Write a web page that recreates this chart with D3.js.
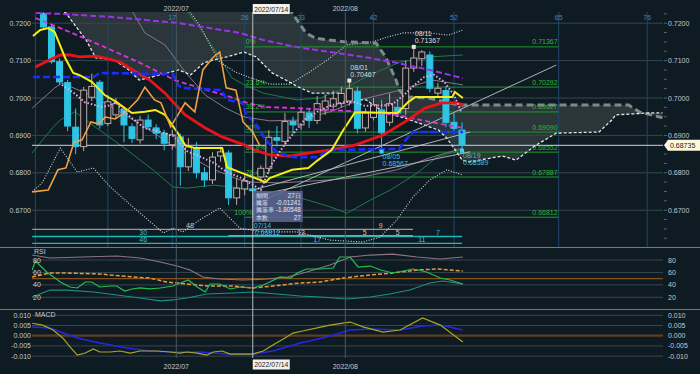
<!DOCTYPE html>
<html>
<head>
<meta charset="utf-8">
<script src="https://cdn.jsdelivr.net/npm/d3@7"></script>
<style>
body { margin: 0; background: #0f1b23; }
svg text { font-family: "Liberation Sans", Arial, sans-serif; }
</style>
</head>
<body>
<div class="chart"></div>
<script>
// bars start at index 1 (index 0 = ichimoku time count origin)
const firstBar = 1
const opens  = [0.7226,0.7190,0.7097,0.7041,0.6922,0.6870,0.7002,0.7042,0.6932,0.6955,0.6968,0.6923,0.6888,0.6941,0.6920,0.6906,0.6875,0.6896,0.6816,0.6866,0.6800,0.6781,0.6845,0.6853,0.6733,0.6757,0.6757,0.6789,0.6812,0.6894,0.6884,0.6937,0.6928,0.6960,0.6940,0.6968,0.6978,0.6985,0.6992,0.7018,0.6920,0.6948,0.6968,0.6935,0.6975,0.6972,0.7080,0.7105,0.7115,0.7013,0.7020,0.6935,0.6914]
const highs  = [0.7236,0.7196,0.7106,0.7048,0.6972,0.7030,0.7065,0.7048,0.7008,0.7000,0.6976,0.6932,0.6952,0.6956,0.6930,0.6915,0.6915,0.6905,0.6893,0.6882,0.6815,0.6855,0.6870,0.6860,0.6786,0.6800,0.6790,0.6820,0.6914,0.6925,0.6960,0.6950,0.6975,0.6972,0.7005,0.7010,0.7020,0.7030,0.70467,0.7030,0.6972,0.7000,0.6995,0.7012,0.6995,0.7100,0.71367,0.7128,0.7125,0.7040,0.7032,0.6960,0.6935]
const lows   = [0.7186,0.7092,0.7035,0.6911,0.6850,0.6858,0.6992,0.6918,0.6925,0.6944,0.6882,0.6880,0.6878,0.6915,0.6890,0.6860,0.6862,0.6766,0.6805,0.6785,0.6762,0.6770,0.6830,0.6714,0.6714,0.6740,0.66812,0.6775,0.6800,0.6870,0.6875,0.6905,0.6915,0.6920,0.6930,0.6955,0.6970,0.6975,0.6980,0.6905,0.6910,0.6940,0.68567,0.6925,0.6950,0.6955,0.7070,0.7085,0.7015,0.7000,0.6922,0.6905,0.68589]
const closes = [0.7190,0.7097,0.7043,0.6925,0.6870,0.7021,0.7031,0.6928,0.6990,0.6985,0.6928,0.6892,0.6941,0.6923,0.6906,0.6879,0.6901,0.6816,0.6869,0.6800,0.6781,0.6842,0.6856,0.6733,0.6759,0.6778,0.6752,0.6812,0.6895,0.6887,0.6937,0.6928,0.6962,0.6940,0.6985,0.6992,0.6998,0.7012,0.7025,0.6919,0.6960,0.6982,0.6907,0.6985,0.6960,0.7080,0.7107,0.7123,0.7026,0.7026,0.6935,0.6919,0.68735]
const lastPrice = 0.68735

// [bar index, value]
const tenkan = [[-0.3,0.7166],[0.6,0.7182],[1.6,0.7187],[2.4,0.7176],[3.7,0.7107],[4.7,0.7067],[5.5,0.7061],[7,0.7043],[8.6,0.7008],[10.1,0.6989],[11.1,0.6973],[12,0.6960],[13.6,0.6963],[14.9,0.6968],[16.1,0.6955],[17.6,0.6909],[18.6,0.6874],[19.8,0.6866],[23.2,0.6866],[23.8,0.6815],[25.7,0.6799],[27.3,0.6786],[28.6,0.6775],[29.1,0.6786],[31.9,0.6808],[33.9,0.6813],[35.1,0.6834],[36.8,0.6861],[38.1,0.6909],[39.7,0.6962],[45,0.6960],[46.3,0.6989],[47.2,0.7003],[51.8,0.7003],[52.1,0.7016],[53.1,0.7000]]
const kijun = [[-0.3,0.7056],[7.2,0.7056],[8,0.7067],[17.1,0.7064],[17.7,0.7035],[18.2,0.7027],[23.1,0.7021],[23.8,0.6995],[25.7,0.6987],[26.2,0.6955],[27.2,0.6936],[28.6,0.6888],[30.1,0.6853],[32.1,0.6842],[35.1,0.6842],[36.1,0.6856],[36.6,0.6861],[45.2,0.6864],[46.2,0.6893],[46.9,0.6909],[53.1,0.6909]]
const sma25 = [[0,0.7083],[1.8,0.7102],[3.1,0.7115],[4.3,0.7115],[5.5,0.7110],[7.4,0.7112],[8.6,0.7107],[10.5,0.7096],[12.1,0.7075],[14.2,0.7048],[16.1,0.7013],[18.6,0.6955],[21.1,0.6920],[23.2,0.6896],[26,0.6874],[27.2,0.6861],[29.1,0.6848],[31.6,0.6845],[34.1,0.6853],[36.6,0.6861],[39.7,0.6874],[43.2,0.6901],[45.9,0.6936],[48.4,0.6973],[50.5,0.6987],[52.1,0.6987],[53.2,0.6982]]
const sma75 = [[0,0.7214],[3.1,0.7187],[8,0.7142],[13,0.7094],[17.3,0.7048],[20.4,0.7027],[24.2,0.7003],[25.8,0.6990],[28.3,0.6976],[32.5,0.6973],[36.6,0.6968],[40.7,0.6963],[44.9,0.6955],[49,0.6936],[53.1,0.6920]]
const sma200 = [[0.1,0.7227],[3.1,0.7225],[9.3,0.7217],[17.6,0.7201],[25.4,0.7174],[28.3,0.7155],[32.5,0.7136],[36.6,0.7123],[40.7,0.7110],[44.9,0.7094],[49,0.7075],[53.1,0.7053]]
const chikou = [[-0.4,0.6749],[1.6,0.6754],[2.8,0.6808],[3.8,0.6813],[4.8,0.6882],[5.8,0.6888],[6.9,0.6936],[7.8,0.6931],[8.7,0.6949],[9.9,0.6944],[11.1,0.6960],[12.7,0.6995],[13.6,0.7029],[14.8,0.6995],[15.6,0.6987],[16.8,0.6923],[18.6,0.6987],[19.8,0.6963],[20.8,0.7075],[22,0.7107],[22.9,0.7123],[23.7,0.7027],[24.9,0.7021],[25.8,0.6936],[27,0.6909],[27.9,0.6872]]
const sma5 = [[3.3,0.7035],[4.8,0.7013],[6.1,0.6989],[8.2,0.6976],[9.4,0.6981],[10,0.6989],[11,0.6963],[12.6,0.6936],[13.5,0.6920],[15.1,0.6912],[17.2,0.6898],[18.8,0.6858],[20.6,0.6842],[22.2,0.6826],[23.8,0.6802],[25.6,0.6786],[27.2,0.6765],[28,0.6754],[29.3,0.6821],[30.9,0.6874],[32.2,0.6909],[33.4,0.6941],[35,0.6963],[36.7,0.6981],[38.4,0.6989],[39.6,0.6989],[40.9,0.6979],[44.2,0.6981],[45.8,0.7008],[47.1,0.7035],[48.3,0.7056],[49.5,0.7062],[50.8,0.7043],[52,0.7008],[52.9,0.6963]]
const spanA = [[0,0.7245],[2.9,0.7240],[3.8,0.7227],[6.3,0.7155],[7.5,0.7107],[9.8,0.7102],[11.6,0.7075],[12.9,0.7048],[14.1,0.7054],[17.8,0.7075],[19.3,0.7062],[20.9,0.7094],[22.2,0.7102],[23.8,0.7110],[25.9,0.7123],[27.4,0.7110],[29.4,0.7067],[31.1,0.7048],[32.7,0.7029],[34.4,0.7013],[37.7,0.7013],[39.3,0.6995],[41.1,0.6995],[42.3,0.6976],[43.5,0.6960],[45.8,0.6947],[48.3,0.6928],[50.1,0.6914],[51.1,0.6893],[52,0.6866],[53,0.6834],[53.9,0.6829],[58,0.6845],[59.7,0.6834],[62.2,0.6874],[64.7,0.6906],[70,0.6909],[71.6,0.6941],[72.1,0.6955],[76.2,0.6960],[77.9,0.6960]]
const spanB = [[0,0.7245],[31.5,0.7240],[31.9,0.7227],[33.6,0.7174],[34.8,0.7160],[36.5,0.7155],[38.6,0.7150],[42.3,0.7147],[43.5,0.7110],[44.8,0.7048],[45.2,0.7021],[46,0.7003],[48.9,0.7000],[52.6,0.6981],[73.7,0.6981],[75,0.6963],[77.9,0.6947]]
const bbUp3 = [[17,0.7260],[19.2,0.7230],[20.4,0.7195],[21.7,0.7142],[22.9,0.7096],[24.8,0.7070],[26.7,0.7054],[29.1,0.7037],[31.6,0.7037],[34.1,0.7070],[36.6,0.7107],[38.7,0.7142],[41.9,0.7150],[43.7,0.7163],[45.7,0.7174],[49,0.7174],[51.3,0.7168],[53.1,0.7182]]
const bbLow3 = [[-0.4,0.6749],[0.9,0.6775],[3.1,0.6866],[5.2,0.6802],[7.2,0.6813],[9.3,0.6762],[12.1,0.6709],[15.9,0.6639],[17.1,0.6652],[18.3,0.6642],[20.4,0.6674],[22.9,0.6706],[25.4,0.6652],[28.3,0.6642],[32.5,0.6642],[36.6,0.6620],[40.7,0.6615],[42.8,0.6628],[44.9,0.6674],[46.9,0.6735],[49,0.6781],[51.1,0.6808],[53.1,0.6794]]
const bbUp1 = [[10.5,0.7245],[12.1,0.7230],[13.6,0.7174],[16.1,0.7142],[18.6,0.7070],[21.1,0.7008],[23.6,0.6973],[26,0.6949],[29.1,0.6939],[32.9,0.6941],[36.6,0.6963],[40.3,0.6995],[45.3,0.7021],[49.3,0.7048],[53.1,0.7035]]
const bbLow1 = [[-0.4,0.6973],[2.4,0.7027],[3.3,0.7040],[6.8,0.7008],[10.5,0.6963],[14.2,0.6914],[17.9,0.6861],[21.7,0.6813],[25.4,0.6781],[27,0.6775],[30.4,0.6773],[36.6,0.6781],[40.7,0.6789],[44.9,0.6808],[49,0.6840],[53.1,0.6866]]
const bbUp2 = [[17.9,0.7245],[18.9,0.7230],[20.4,0.7188],[22.7,0.7115],[24.4,0.7054],[26,0.7035],[28.3,0.7013],[32.5,0.6995],[35.4,0.7000],[38.5,0.7027],[41.6,0.7062],[45.3,0.7096],[49,0.7110],[53.1,0.7115]]
const bbLow2 = [[-0.4,0.6853],[0.9,0.6888],[2.2,0.6922],[3.1,0.6941],[4.9,0.6963],[7.6,0.6920],[11.4,0.6861],[14.6,0.6808],[17.1,0.6762],[18.8,0.6759],[22.1,0.6767],[24.5,0.6762],[27.9,0.6749],[32.9,0.6733],[36.6,0.6709],[38.7,0.6692],[41.6,0.6727],[44.1,0.6754],[47.4,0.6799],[49.9,0.6842],[53.1,0.6861]]
const fanLines = [[[27,0.6713],[64.7,0.7088]],[[27,0.6754],[54,0.6909]],[[27,0.6738],[54,0.6856]]]

const fibPcts = ['0%','23.6%','38.2%','50%','61.8%','76.4%','100%']
const fibPrices = [0.71367,0.70292,0.69627,0.69090,0.68552,0.67887,0.66812]
const fibSpan = [26, 65]

const timeCounts = [17, 26, 33, 42, 52, 65, 76]
const timeLinesPlain = [0, 9]
const months = [[17.5, '2022/07'], [38.5, '2022/08']]
const crossBar = 27
const crossLabel = '2022/07/14'

const peakNotes = [[39, 0.70467, '08/01', 'hi'], [47, 0.71367, '08/11', 'hi'], [43, 0.68567, '08/05', 'lo'], [53, 0.68589, '08/19', 'lo']]
const boxRows = [['期間', '27日'], ['騰落', '-0.01241'], ['騰落率', '-1.80548'], ['本数', '27']]

const cycleTop = [[19.2, '48'], [42.9, '9']]
const cycleMid = [[13.4, '30'], [33, '13'], [40.9, '5'], [45, '5'], [50, '7']]
const cycleLow = [[13.4, '46'], [35, '17'], [48, '11']]

const priceTicks = [0.72, 0.71, 0.70, 0.69, 0.68, 0.67]
const rsiTicks = [80, 60, 40, 20]
const macdTicks = [0.01, 0.005, 0, -0.005, -0.01]

const rsi = [[-0.4,63.9],[0,78.4],[1.4,60.7],[3.1,44.6],[4.3,36.6],[5.2,35],[6.2,44.6],[7,44.6],[8,36.6],[9.3,38.2],[10.1,38.2],[11.1,30.1],[12,33.4],[13,35],[14.2,33.4],[15.5,35],[17.1,38.2],[18,43],[19,47.8],[20.1,36.6],[21.1,28.5],[21.7,41.4],[22.9,41.4],[24.2,33.4],[25.4,36.6],[27,35],[28.3,39.8],[29.1,44.6],[30.4,52.7],[31.7,51],[32.5,59.1],[33.7,65.5],[35.4,65.5],[37,67.1],[37.8,84.8],[39.1,84.8],[40.1,68.7],[41.6,70.3],[42.9,63.9],[44.4,59.1],[45.7,62.3],[46.9,65.5],[48.6,60.7],[50.3,51],[51.5,47.8],[53.1,41.4]]
const rsiSignal = [[-0.4,52.7],[1.8,59.1],[3.9,59.1],[8,57.5],[12.1,52.7],[14.2,51],[16.3,44.6],[18.8,41.4],[21.3,38.2],[24.5,38.2],[27,35],[29.5,38.2],[32.9,43],[35.4,44.6],[38.2,51],[41.6,55.9],[44.4,59.1],[47.4,63.9],[49.9,65.5],[53.1,62.3]]
const rsiLong = [[-0.4,88],[1.8,83.2],[5.9,84.8],[10.1,86.4],[13,83.2],[15.5,76.8],[17.6,70.3],[19.2,63.9],[20.8,52.7],[22.9,49.4],[25.8,47.8],[28.8,49.4],[31.3,52.7],[33.7,60.7],[36.6,72],[39.1,84.8],[41.6,88],[44.4,89.6],[47.4,84.8],[50.3,81.6],[53.1,84.8]]
const rsiShort = [[-0.4,20.5],[1.8,31.7],[3.9,31.7],[7.2,28.5],[10.1,23.7],[13,18.9],[15.5,14.1],[17.1,15.7],[18.8,18.9],[21.3,25.3],[24.5,26.9],[27,28.5],[30,25.3],[32.9,22.1],[35.4,20.5],[38.7,17.3],[41.6,20.5],[44,25.3],[46.5,31.7],[49,43],[50.6,46.2],[53.1,41.4]]

const macd = [[-0.4,0.0061],[0.9,0.0052],[2.2,0.0028],[3.4,-0.0011],[4.3,-0.0055],[5.2,-0.0095],[6.2,-0.0085],[7.2,-0.0065],[8,-0.0080],[9.3,-0.0080],[10.5,-0.0075],[11.8,-0.0085],[13,-0.0075],[15.1,-0.0075],[16.7,-0.0080],[18,-0.0085],[18.8,-0.0080],[20.1,-0.0085],[21.3,-0.0095],[22.1,-0.0080],[23.2,-0.0075],[24.2,-0.0090],[26.3,-0.0090],[27,-0.0090],[28.3,-0.0075],[29.5,-0.0046],[30.8,-0.0016],[32,0.0013],[33.2,0.0023],[35,0.0038],[36.6,0.0052],[38.2,0.0062],[39.1,0.0067],[40.7,0.0043],[43.2,0.0018],[45.3,0.0028],[48.1,0.0087],[50.3,0.0052],[53.1,-0.0031]]
const macdSignal = [[-0.4,0.0043],[1.8,0.0038],[5.2,-0.0011],[8,-0.0036],[11.4,-0.0060],[14.2,-0.0075],[17.1,-0.0080],[20.4,-0.0080],[23.8,-0.0090],[27,-0.0090],[29.5,-0.0075],[32.9,-0.0036],[36.2,-0.0006],[39.1,0.0028],[41.6,0.0033],[45.3,0.0028],[48.1,0.0048],[50.3,0.0052],[53.1,0.0028]]

const W = 700, H = 374
const left = 32, right = 663

const svg = d3.select('.chart').append('svg').attr('width', W).attr('height', H)
svg.append('rect').attr('width', W).attr('height', H).attr('fill', '#0f1b23')

const x = d3.scaleLinear().domain([0, 78]).range([35.4, 663.3])
const yP = d3.scaleLinear().domain([0.67, 0.72]).range([210.2, 23.2])
const yR = d3.scaleLinear().domain([20, 80]).range([297.3, 260])
const yM = d3.scaleLinear().domain([-0.01, 0.01]).range([356.1, 315.3])

const defs = svg.append('defs')
const clip = (id, y0, y1) => defs.append('clipPath').attr('id', id).append('rect')
  .attr('x', left).attr('y', y0).attr('width', right - left).attr('height', y1 - y0)
clip('cMain', 12, 247)
clip('cRsi', 248, 309)
clip('cMacd', 311, 358)

const main = svg.append('g').attr('clip-path', 'url(#cMain)')
const rsiG = svg.append('g').attr('clip-path', 'url(#cRsi)')
const macdG = svg.append('g').attr('clip-path', 'url(#cMacd)')

const lineOf = ys => d3.line().x(d => x(d[0])).y(d => ys(d[1]))

const draw = (g, data, ys, color, width, dash) => g.append('path')
  .datum(data).attr('d', lineOf(ys)).attr('fill', 'none')
  .attr('stroke', color).attr('stroke-width', width)
  .attr('stroke-dasharray', dash || null)

// ichimoku cloud
const cloudPts = spanB.map(d => [x(d[0]), yP(d[1])]).concat(spanA.slice().reverse().map(d => [x(d[0]), yP(d[1])]))
main.append('path').attr('d', d3.line()(cloudPts) + 'Z').attr('fill', '#65706c').attr('opacity', 0.32)

// horizontal grids
const hgrid = (g, ticks, ys) => g.selectAll(null).data(ticks).join('line')
  .attr('x1', left).attr('x2', right).attr('y1', d => ys(d)).attr('y2', d => ys(d))
  .attr('stroke', '#38464f').attr('stroke-width', 1)
hgrid(main, priceTicks, yP)
hgrid(rsiG, rsiTicks, yR)
hgrid(macdG, macdTicks.filter(d => d !== 0), yM)
rsiG.append('line').attr('x1', left).attr('x2', right).attr('y1', yR(50)).attr('y2', yR(50)).attr('stroke', '#84501c').attr('stroke-width', 1.4)
macdG.append('line').attr('x1', left).attr('x2', right).attr('y1', yM(0)).attr('y2', yM(0)).attr('stroke', '#5c3f27').attr('stroke-width', 2.2)

// time-count lines (main panel)
main.selectAll(null).data(timeCounts.concat(timeLinesPlain)).join('line')
  .attr('x1', d => x(d)).attr('x2', d => x(d)).attr('y1', 12).attr('y2', 247)
  .attr('stroke', '#1f4868').attr('stroke-width', 1)

// month lines through all panels
svg.selectAll(null).data(months).join('line')
  .attr('x1', d => x(d[0])).attr('x2', d => x(d[0])).attr('y1', 12).attr('y2', 358)
  .attr('stroke', '#4b5963').attr('stroke-width', 1)

// measurement box position (drawn later)
const bx = x(crossBar), by = 191, bw = 50, bh = 31

// fibonacci retracement
fibPrices.forEach((p, k) => {
  main.append('line').attr('x1', x(fibSpan[0])).attr('x2', x(fibSpan[1]))
    .attr('y1', yP(p)).attr('y2', yP(p)).attr('stroke', '#1c9a29').attr('stroke-width', 1)
  const ly = yP(p) - 2.5
  const underBox = ly > by && ly - 7 < by + bh
  main.append('text').attr('x', underBox ? bx - 0.5 : x(fibSpan[0]) + 1).attr('y', ly)
    .attr('text-anchor', underBox ? 'end' : 'start')
    .attr('font-size', 7).attr('fill', '#2fb83a').text(fibPcts[k])
  main.append('text').attr('x', x(fibSpan[1]) - 1).attr('y', ly).attr('text-anchor', 'end')
    .attr('font-size', 7).attr('fill', '#2fb83a').text(p.toFixed(5))
})

// cycle count rows
const rowY = [229.3, 236.5, 243.3]
main.append('line').attr('x1', x(-0.4)).attr('x2', x(46.9)).attr('y1', rowY[0]).attr('y2', rowY[0]).attr('stroke', '#a69494').attr('stroke-width', 1.3)
main.append('line').attr('x1', x(-0.4)).attr('x2', x(53)).attr('y1', rowY[1]).attr('y2', rowY[1]).attr('stroke', '#17b9bd').attr('stroke-width', 1.3)
main.append('line').attr('x1', x(24)).attr('x2', x(46.9)).attr('y1', rowY[1] - 0.8).attr('y2', rowY[1] - 0.8).attr('stroke', '#a69494').attr('stroke-width', 1.3)
main.append('line').attr('x1', x(-0.4)).attr('x2', x(53)).attr('y1', rowY[2]).attr('y2', rowY[2]).attr('stroke', '#17b9bd').attr('stroke-width', 1.3)
const cycText = (data, y, colorFn) => main.selectAll(null).data(data).join('text')
  .attr('x', d => x(d[0])).attr('y', y).attr('text-anchor', 'middle').attr('font-size', 7)
  .attr('fill', colorFn).text(d => d[1])
cycText(cycleTop, rowY[0] - 1.5, () => '#cdbcbc')
cycText(cycleMid, rowY[1] - 1.8, d => (d[0] > 24 && d[0] < 46.9) ? '#cdbcbc' : '#3fbfd2')
cycText(cycleLow, rowY[2] - 1.5, () => '#3fbfd2')

// bands
draw(main, bbUp2, yP, '#1f7a48', 1)
draw(main, bbLow2, yP, '#1f7a48', 1)
draw(main, bbUp1, yP, '#8d7487', 1)
draw(main, bbLow1, yP, '#8d7487', 1)
draw(main, bbUp3, yP, '#d4d8da', 1.1, '1,1.6')
draw(main, bbLow3, yP, '#d4d8da', 1.1, '1,1.6')

// cloud spans
draw(main, spanB, yP, '#7e8a85', 3, '7,4')
draw(main, spanA, yP, '#e6e6e6', 1.3, '3,2')

// fan lines
fanLines.forEach(l => draw(main, l, yP, '#bfc4c7', 0.9))

// current price line
main.append('line').attr('x1', left).attr('x2', right).attr('y1', yP(lastPrice)).attr('y2', yP(lastPrice))
  .attr('stroke', '#cfd2d4').attr('stroke-width', 1)

// candles
const bars = opens.map((o, k) => ({ i: k + firstBar, o, h: highs[k], l: lows[k], c: closes[k] }))
const cg = main.append('g')
cg.selectAll('line').data(bars).join('line')
  .attr('x1', d => x(d.i)).attr('x2', d => x(d.i))
  .attr('y1', d => yP(d.h)).attr('y2', d => yP(d.l))
  .attr('stroke', d => d.c >= d.o ? '#c4a7a5' : '#2ec4e4').attr('stroke-width', 1)
cg.selectAll('rect').data(bars).join('rect')
  .attr('x', d => x(d.i) - 3).attr('width', 6)
  .attr('y', d => yP(Math.max(d.o, d.c)))
  .attr('height', d => Math.max(1, Math.abs(yP(d.o) - yP(d.c))))
  .attr('fill', d => d.c >= d.o ? '#0f1b23' : '#2ec4e4')
  .attr('stroke', d => d.c >= d.o ? '#c4a7a5' : '#2ec4e4').attr('stroke-width', 1)

// moving averages and ichimoku lines
draw(main, sma200, yP, '#9d32ea', 2, '6,3')
draw(main, sma75, yP, '#d834d8', 1.8, '5,3')
draw(main, sma25, yP, '#e8141c', 2.8)
draw(main, kijun, yP, '#1b2cff', 2.6, '7,3')
draw(main, tenkan, yP, '#f3ef12', 2)
draw(main, chikou, yP, '#f0a040', 1.6)
draw(main, sma5, yP, '#e6a8e6', 2, '1.5,2')

// peak / trough notes
peakNotes.forEach(([i, p, d, kind]) => {
  const col = kind === 'hi' ? '#dcdcdc' : '#45bfe0'
  main.append('rect').attr('x', x(i) - 2).attr('y', yP(p) - 2).attr('width', 4).attr('height', 4)
    .attr('fill', kind === 'hi' ? '#efe6cf' : '#3fd0ee')
  const y0 = kind === 'hi' ? yP(p) - 11 : yP(p) + 7
  main.append('text').attr('x', x(i) + 1).attr('y', y0).attr('font-size', 7).attr('fill', col).text(d)
  main.append('text').attr('x', x(i) + 1).attr('y', y0 + 7.5).attr('font-size', 7).attr('fill', col).text(p.toFixed(5))
})
main.append('text').attr('x', x(crossBar) + 1).attr('y', 227.5).attr('font-size', 7).attr('fill', '#45bfe0').text('07/14')
main.append('text').attr('x', x(crossBar) + 2).attr('y', 234.5).attr('font-size', 7).attr('fill', '#45bfe0').text('0.66812')

// measurement box
main.append('rect').attr('x', bx).attr('y', by).attr('width', bw).attr('height', bh)
  .attr('fill', '#5d6694').attr('opacity', 0.88)
boxRows.forEach((r, k) => {
  main.append('text').attr('x', bx + 3).attr('y', by + 6.6 + k * 7.3).attr('font-size', 6.3)
    .attr('font-family', '"Noto Sans CJK JP", sans-serif').attr('fill', '#e6e8f2').text(r[0])
  main.append('text').attr('x', bx + 48).attr('y', by + 6.6 + k * 7.3).attr('font-size', 6.3)
    .attr('text-anchor', 'end').attr('font-family', '"Noto Sans CJK JP", sans-serif').attr('fill', '#e6e8f2').text(r[1])
})

// RSI lines
draw(rsiG, rsiLong, yR, '#8e7488', 1.2)
draw(rsiG, rsiShort, yR, '#1f8f80', 1.2)
draw(rsiG, rsiSignal, yR, '#e89a3a', 1.5, '4,2')
draw(rsiG, rsi, yR, '#22c050', 1.2)

// MACD lines
draw(macdG, macdSignal, yM, '#2626e6', 1.5)
draw(macdG, macd, yM, '#aaa526', 1.2)

// panel separators
svg.selectAll(null).data([247.5, 309.5]).join('line')
  .attr('x1', 0).attr('x2', W).attr('y1', d => d).attr('y2', d => d)
  .attr('stroke', '#6d7b83').attr('stroke-width', 1)

// crosshair
svg.append('line').attr('x1', x(crossBar)).attr('x2', x(crossBar)).attr('y1', 12).attr('y2', 358)
  .attr('stroke', '#b9bdc1').attr('stroke-width', 1)

// axis labels
const txt = (xx, yy, s, anchor, col) => svg.append('text').attr('x', xx).attr('y', yy)
  .attr('font-size', 7).attr('text-anchor', anchor || 'start').attr('fill', col || '#c3c9ce').text(s)

priceTicks.forEach(p => {
  txt(31, yP(p) + 2.5, p.toFixed(4), 'end')
  txt(668, yP(p) + 2.5, p.toFixed(4))
})
d3.range(0.6625, 0.7226, 0.0025).forEach(p => {
  svg.append('line').attr('x1', 664).attr('x2', 667).attr('y1', yP(p)).attr('y2', yP(p))
    .attr('stroke', '#56636b').attr('stroke-width', 1)
})
rsiTicks.forEach(v => {
  txt(33, yR(v) + 2.5, v)
  txt(668, yR(v) + 2.5, v)
})
macdTicks.forEach(v => {
  txt(31, yM(v) + 2.5, v.toFixed(3), 'end')
  txt(668, yM(v) + 2.5, v.toFixed(3))
})
txt(34, 254, 'RSI')
txt(35, 317, 'MACD')

timeCounts.forEach(t => txt(x(t), 19.5, t, 'middle', '#3d83c4'))
months.forEach(m => {
  txt(x(m[0]), 10.5, m[1], 'middle', '#c3c9ce')
  txt(x(m[0]), 368.5, m[1], 'middle', '#c3c9ce')
})

// cross date boxes
;[[4, 11.5], [359.5, 367]].forEach(([ry, ty]) => {
  svg.append('rect').attr('x', x(crossBar)).attr('y', ry).attr('width', 37).attr('height', 10).attr('fill', '#f2f2ea')
  svg.append('text').attr('x', x(crossBar) + 18.5).attr('y', ty).attr('text-anchor', 'middle')
    .attr('font-size', 6.8).attr('fill', '#222').text(crossLabel)
})

// last price tag
const ly = yP(lastPrice)
svg.append('path').attr('d', `M664,${ly} L668,${ly - 5.5} L700,${ly - 5.5} L700,${ly + 5.5} L668,${ly + 5.5} Z`)
  .attr('fill', '#fbf8dc')
svg.append('text').attr('x', 670).attr('y', ly + 2.5).attr('font-size', 7).attr('fill', '#1a1a1a').text(lastPrice.toFixed(5))
</script>
</body>
</html>
